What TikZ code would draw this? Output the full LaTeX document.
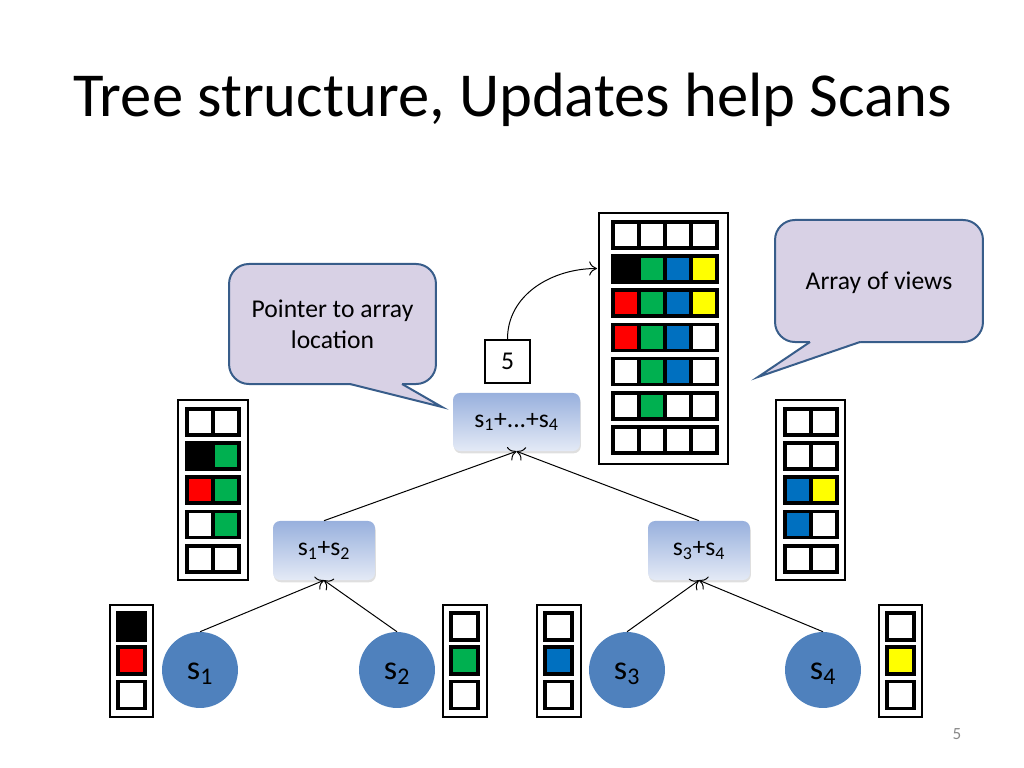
\documentclass[tikz,border=0pt]{standalone}
\usepackage{fontspec}
\setmainfont{Carlito}
\usetikzlibrary{arrows.meta,shadows}

\definecolor{vgreen}{RGB}{0,176,80}
\definecolor{vblue}{RGB}{0,112,192}
\definecolor{vred}{RGB}{255,0,0}
\definecolor{vyellow}{RGB}{255,255,0}
\definecolor{leafblue}{RGB}{79,129,189}
\definecolor{notefill}{RGB}{216,209,229}
\definecolor{noteline}{RGB}{56,93,138}
\definecolor{sumtop}{RGB}{152,176,221}
\definecolor{sumbot}{RGB}{228,234,246}
\definecolor{pagegray}{RGB}{137,137,137}

\newcommand{\cellbox}[4][2.6]{\filldraw[cell, fill=#4] (#2,#3) rectangle +(#1,-#1);}

\begin{document}
\begin{tikzpicture}[x=7.03125pt, y=7.03125pt]
        \tikzstyle{every node}+=[inner sep=0pt]
        \tikzstyle{cell}=[draw=black, line width=2.2pt]
        \tikzstyle{frame}=[draw=black, line width=2pt, fill=white]
        \tikzstyle{leaf}=[circle, fill=leafblue, minimum size=53.4pt, text height=16pt, text depth=2.4pt, font=\fontsize{24}{28}\selectfont]
        \tikzstyle{sum}=[rounded corners=5pt, top color=sumtop, bottom color=sumbot, drop shadow={opacity=0.25, shadow xshift=0.6pt, shadow yshift=-1.6pt}, font=\fontsize{18}{21}\selectfont]
        \tikzstyle{ptr}=[draw=black, line width=1.5pt, fill=white, minimum width=31.6pt, minimum height=30.2pt, font=\fontsize{18}{21}\selectfont]
        \tikzstyle{note}=[draw=noteline, fill=notefill, line width=1.4pt, rounded corners=14pt, align=center, font=\fontsize{18}{21.6}\selectfont]
        \tikzstyle{noteedge}=[draw=noteline, line width=1.4pt, line join=miter]
        \tikzstyle{edge}=[-{To[length=5.5pt, width=10pt]}, line width=0.7pt]
        \useasboundingbox (0,0) rectangle (102.4,-76.8);
        \node [anchor=base west, font=\fontsize{44}{52}\selectfont] (title) at (7.3,-11.7) {Tree structure, Updates help Scans};
        \node [font=\fontsize{12}{14}\selectfont, text=pagegray] (pagenum) at (95.7,-73.4) {5};
        \draw [frame] (59.9,-21.3) rectangle (72.8,-46.4);
        \cellbox{61.3}{-22.2}{white}
        \cellbox{63.9}{-22.2}{white}
        \cellbox{66.5}{-22.2}{white}
        \cellbox{69.1}{-22.2}{white}
        \cellbox{61.3}{-25.6}{black}
        \cellbox{63.9}{-25.6}{vgreen}
        \cellbox{66.5}{-25.6}{vblue}
        \cellbox{69.1}{-25.6}{vyellow}
        \cellbox{61.3}{-29.0}{vred}
        \cellbox{63.9}{-29.0}{vgreen}
        \cellbox{66.5}{-29.0}{vblue}
        \cellbox{69.1}{-29.0}{vyellow}
        \cellbox{61.3}{-32.45}{vred}
        \cellbox{63.9}{-32.45}{vgreen}
        \cellbox{66.5}{-32.45}{vblue}
        \cellbox{69.1}{-32.45}{white}
        \cellbox{61.3}{-35.85}{white}
        \cellbox{63.9}{-35.85}{vgreen}
        \cellbox{66.5}{-35.85}{vblue}
        \cellbox{69.1}{-35.85}{white}
        \cellbox{61.3}{-39.3}{white}
        \cellbox{63.9}{-39.3}{vgreen}
        \cellbox{66.5}{-39.3}{white}
        \cellbox{69.1}{-39.3}{white}
        \cellbox{61.3}{-42.7}{white}
        \cellbox{63.9}{-42.7}{white}
        \cellbox{66.5}{-42.7}{white}
        \cellbox{69.1}{-42.7}{white}
        \draw [frame] (17.8,-40.0) rectangle (24.8,-58.0);
        \cellbox{18.7}{-40.9}{white}
        \cellbox{21.3}{-40.9}{white}
        \cellbox{18.7}{-44.3}{black}
        \cellbox{21.3}{-44.3}{vgreen}
        \cellbox{18.7}{-47.7}{vred}
        \cellbox{21.3}{-47.7}{vgreen}
        \cellbox{18.7}{-51.15}{white}
        \cellbox{21.3}{-51.15}{vgreen}
        \cellbox{18.7}{-54.6}{white}
        \cellbox{21.3}{-54.6}{white}
        \draw [frame] (77.6,-40.0) rectangle (84.5,-58.0);
        \cellbox{78.5}{-40.9}{white}
        \cellbox{81.1}{-40.9}{white}
        \cellbox{78.5}{-44.3}{white}
        \cellbox{81.1}{-44.3}{white}
        \cellbox{78.5}{-47.7}{vblue}
        \cellbox{81.1}{-47.7}{vyellow}
        \cellbox{78.5}{-51.15}{vblue}
        \cellbox{81.1}{-51.15}{white}
        \cellbox{78.5}{-54.6}{white}
        \cellbox{81.1}{-54.6}{white}
        \draw [frame] (11.0,-60.5) rectangle (15.3,-71.7);
        \cellbox[2.7]{11.8}{-61.3}{black}
        \cellbox[2.7]{11.8}{-64.7}{vred}
        \cellbox[2.7]{11.8}{-68.15}{white}
        \draw [frame] (44.3,-60.5) rectangle (48.7,-71.7);
        \cellbox[2.7]{45.1}{-61.3}{white}
        \cellbox[2.7]{45.1}{-64.7}{vgreen}
        \cellbox[2.7]{45.1}{-68.15}{white}
        \draw [frame] (53.7,-60.5) rectangle (58.1,-71.7);
        \cellbox[2.7]{54.5}{-61.3}{white}
        \cellbox[2.7]{54.5}{-64.7}{vblue}
        \cellbox[2.7]{54.5}{-68.15}{white}
        \draw [frame] (87.9,-60.5) rectangle (92.2,-71.7);
        \cellbox[2.7]{88.7}{-61.3}{white}
        \cellbox[2.7]{88.7}{-64.7}{vyellow}
        \cellbox[2.7]{88.7}{-68.15}{white}
        \node [leaf] (s1) at (20.0,-67.0) {s\textsubscript{1}};
        \node [leaf] (s2) at (39.7,-67.0) {s\textsubscript{2}};
        \node [leaf] (s3) at (62.7,-67.0) {s\textsubscript{3}};
        \node [leaf] (s4) at (82.3,-67.0) {s\textsubscript{4}};
        \node [sum, minimum width=71.7pt, minimum height=41.5pt] (s12) at (32.4,-55.05) {s\textsubscript{1}+s\textsubscript{2}};
        \node [sum, minimum width=71.7pt, minimum height=41.5pt] (s34) at (69.9,-55.05) {s\textsubscript{3}+s\textsubscript{4}};
        \node [sum, minimum width=89.3pt, minimum height=40.8pt] (sall) at (51.65,-42.2) {s\textsubscript{1}+...+s\textsubscript{4}};
        \node [ptr] (ptr) at (50.75,-36.15) {5};
        \coordinate (views) at (59.7,-26.85);
        \draw [edge] (s1.north) -- (s12.south);
        \draw [edge] (s2.north) -- (s12.south);
        \draw [edge] (s3.north) -- (s34.south);
        \draw [edge] (s4.north) -- (s34.south);
        \draw [edge] (s12.north) -- (sall.south);
        \draw [edge] (s34.north) -- (sall.south);
        \draw [edge] (ptr.north) to[out=90, in=180] (views);
        \node [note, minimum width=145.5pt, minimum height=84.4pt] (pnote) at (33.25,-32.4) {Pointer to array\\location};
        \fill [notefill] (35.0,-38.2) -- (35.0,-38.4) -- (44.2,-40.7) -- (40.2,-38.4) -- (40.2,-38.2) -- cycle;
        \draw [noteedge] (35.0,-38.4) -- (44.2,-40.7) -- (40.2,-38.4);
        \node [note, minimum width=146.2pt, minimum height=85.8pt, text depth=0pt] (vnote) at (87.9,-28.1) {Array of views};
        \fill [notefill] (81.0,-34.0) -- (81.0,-34.2) -- (75.8,-37.7) -- (86.0,-34.2) -- (86.0,-34.0) -- cycle;
        \draw [noteedge] (81.0,-34.2) -- (75.8,-37.7) -- (86.0,-34.2);
\end{tikzpicture}
\end{document}
